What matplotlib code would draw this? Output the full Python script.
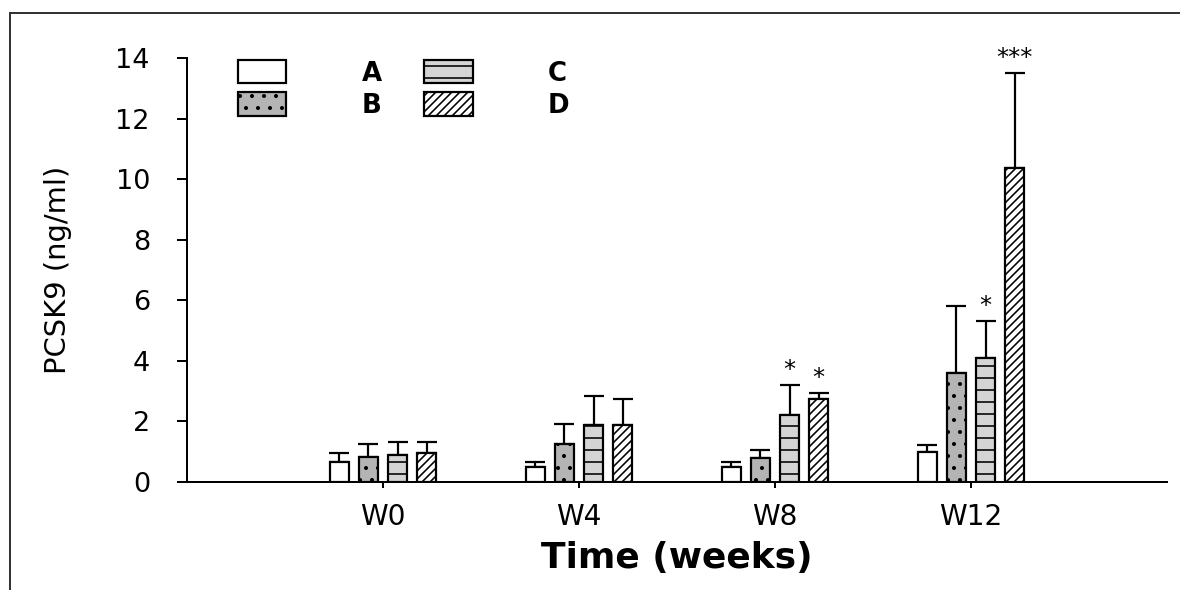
import numpy as np
import matplotlib.pyplot as plt
from matplotlib.patches import Patch
from matplotlib.lines import Line2D

# データ
weeks = ["W0", "W4", "W8", "W12"]
group_names = ["A", "B", "C", "D"]
mean_a = [0.65, 0.50, 0.50, 0.99]
mean_b = [0.82, 1.25, 0.79, 3.60]
mean_c = [0.90, 1.88, 2.21, 4.09]
mean_d = [0.95, 1.88, 2.74, 10.36]
err_a = [0.32, 0.16, 0.16, 0.23]
err_b = [0.45, 0.66, 0.27, 2.20]
err_c = [0.41, 0.96, 0.99, 1.22]
err_d = [0.38, 0.86, 0.20, 3.14]
stars_a = ["", "", "", ""]
stars_b = ["", "", "", ""]
stars_c = ["", "", "*", "*"]
stars_d = ["", "", "*", "***"]
y_ticks = [0, 2, 4, 6, 8, 10, 12, 14]

means = [mean_a, mean_b, mean_c, mean_d]
errors = [err_a, err_b, err_c, err_d]
stars = [stars_a, stars_b, stars_c, stars_d]

# 各群の見た目
face_colors = ["white", "#b4b4b4", "#d4d4d4", "white"]
hatches = [None, ".", "-", "///"]

# dpi=72 にすると 1pt = 1px になる
DPI = 72
plt.rcParams["font.family"] = "DejaVu Sans"
plt.rcParams["hatch.linewidth"] = 1.6
plt.rcParams["hatch.color"] = "black"

fig = plt.figure(figsize=(1180 / DPI, 590 / DPI), dpi=DPI)
ax = fig.add_axes([187 / 1180, 1 - 482 / 590, 980 / 1180, 424 / 590])

x = np.arange(1, len(weeks) + 1)
step = 0.148
width = 0.10

for g in range(len(group_names)):
    pos = x + (g - 1.5) * step
    ax.bar(pos, means[g], width=width, color=face_colors[g], edgecolor="black",
           linewidth=2.2, hatch=hatches[g], zorder=2)
    ax.errorbar(pos, means[g], yerr=[np.zeros(len(weeks)), errors[g]], fmt="none",
                ecolor="black", elinewidth=2.2, capsize=10, capthick=2.2, zorder=1)
    # 有意差の星
    for i in range(len(weeks)):
        if stars[g][i]:
            ax.annotate(stars[g][i], (pos[i], means[g][i] + errors[g][i]),
                        xytext=(0, 8), textcoords="offset points",
                        ha="center", va="baseline", fontsize=24)

ax.set_xlim(0, 5)
ax.set_ylim(0, 14)
ax.set_xticks(x)
ax.set_xticklabels(weeks, fontsize=28)
ax.set_yticks(y_ticks)
ax.set_yticklabels([str(t) for t in y_ticks], fontsize=27)
ax.tick_params(axis="y", length=10, width=2, pad=27, direction="out")
ax.tick_params(axis="x", length=6, width=2, pad=15, direction="out")
for side in ["top", "right"]:
    ax.spines[side].set_visible(False)
for side in ["left", "bottom"]:
    ax.spines[side].set_linewidth(2)

ax.set_ylabel("PCSK9 (ng/ml)", fontsize=29, labelpad=44)
ax.set_xlabel("Time (weeks)", fontsize=36, fontweight="bold", labelpad=10)

# 凡例
handles = [Patch(facecolor=face_colors[g], edgecolor="black", linewidth=2.2,
                 hatch=hatches[g]) for g in range(len(group_names))]
ax.legend(handles, group_names, ncol=2, loc="upper left",
          bbox_to_anchor=(0.052, 0.995), frameon=False, borderpad=0,
          borderaxespad=0, prop={"size": 26, "weight": "bold"},
          handlelength=1.85, handleheight=1.0, handletextpad=2.9,
          columnspacing=1.65, labelspacing=0.22)

# 外枠 (左と上だけ)
fig.add_artist(Line2D([10 / 1180, 10 / 1180], [0, 1 - 13 / 590],
                      color="#333333", linewidth=2, transform=fig.transFigure))
fig.add_artist(Line2D([10 / 1180, 1], [1 - 13 / 590, 1 - 13 / 590],
                      color="#333333", linewidth=2, transform=fig.transFigure))

fig.savefig("out.png", dpi=DPI)
